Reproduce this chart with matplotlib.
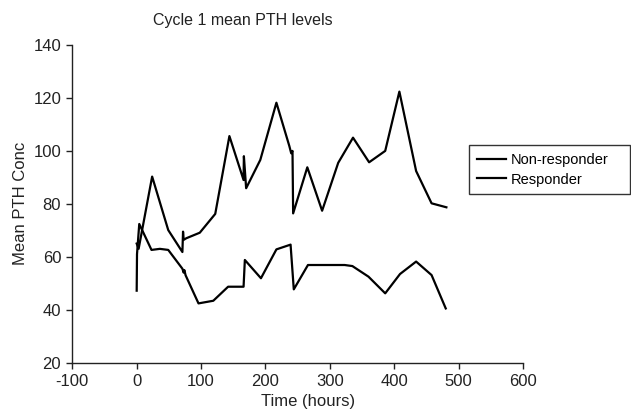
import matplotlib
matplotlib.use("Agg")
from matplotlib import pyplot as plt
from matplotlib.patches import Rectangle

plt.rcParams["font.family"] = ["Liberation Sans", "DejaVu Sans"]
plt.rcParams["axes.unicode_minus"] = False

# non-responder (upper curve)
nonresp_t = [0, 3, 24, 49, 71, 72, 73, 77, 98, 122, 144, 166, 166.5, 170, 192, 217,
             237, 240, 242, 243, 265, 288, 313, 336, 361, 386, 408, 434, 458, 481]
nonresp_v = [65, 63, 90.3, 70.1, 61.8, 69.5, 66.4, 67, 69.1, 76.2, 105.6, 89, 98, 85.9, 96.6, 118.2,
             101.9, 99.1, 100, 76.4, 93.8, 77.4, 95.5, 105, 95.7, 100, 122.4, 92.4, 80.2, 78.7]

# responder (lower curve)
resp_t = [0, 0.5, 4, 23, 36, 49, 71, 73, 74, 76, 96, 119, 142, 166, 168, 193, 217,
          239, 244, 266, 323, 335, 360, 386, 409, 434, 458, 480]
resp_v = [47.2, 61, 72.4, 62.6, 63, 62.6, 55.5, 54, 55, 53, 42.4, 43.4, 48.7, 48.7, 58.8, 51.9, 62.8,
          64.6, 47.7, 56.9, 56.9, 56.5, 52.5, 46.2, 53.5, 58.2, 53.1, 40.5]

W, H = 631, 416
fig = plt.figure(figsize=(W / 100, H / 100), dpi=100)
ax = fig.add_axes([72.3 / W, 1 - 362.7 / H, 450.7 / W, 317.7 / H])

ax.plot(nonresp_t, nonresp_v, color="black", lw=1.6, label="Non-responder")
ax.plot(resp_t, resp_v, color="black", lw=1.6, label="Responder")

ax.set_xlim(-100, 600)
ax.set_ylim(20, 140)
ax.set_xticks(range(-100, 601, 100))
ax.set_yticks(range(20, 141, 20))
for s in ["top", "right"]:
    ax.spines[s].set_visible(False)
for s in ["left", "bottom"]:
    ax.spines[s].set_color("#222222")
    ax.spines[s].set_linewidth(1.0)
ax.tick_params(direction="out", length=4, width=1, labelsize=12, colors="#222222", pad=4)

ax.set_xlabel("Time (hours)", fontsize=12, color="#222222")
ax.xaxis.set_label_coords((308.5 - 72.3) / 450.7, -31 / 317.7)
ax.set_ylabel("Mean PTH Conc", fontsize=12, color="#222222")
ax.yaxis.set_label_coords(-(72.3 - 28) / 450.7, 0.5)

fig.text(242.5 / W, 1 - 21 / H, "Cycle 1 mean PTH levels", ha="center", va="center",
         fontsize=11.5, color="#222222")

# legend: entries without frame, box drawn separately (Excel-style wide box)
leg = ax.legend(loc="upper left", bbox_to_anchor=(477 / W, 1 - 153 / H),
                bbox_transform=fig.transFigure, fontsize=10.5, frameon=False,
                handlelength=2.0, handletextpad=0.3, borderpad=0, labelspacing=0.38,
                borderaxespad=0)
fig.patches.append(Rectangle((469.5 / W, 1 - 193.5 / H), 160 / W, 49 / H,
                             transform=fig.transFigure, fill=False,
                             edgecolor="#333333", lw=1.0))

fig.savefig("out.png", dpi=100)
